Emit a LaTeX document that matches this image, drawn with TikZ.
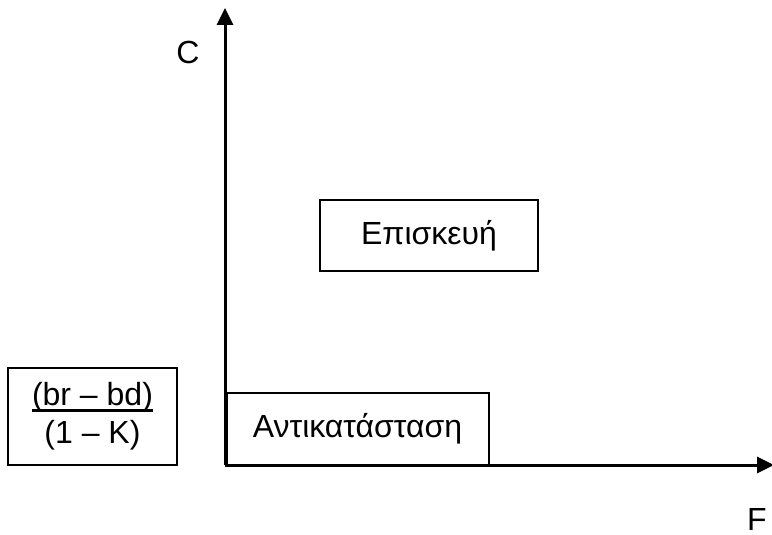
\documentclass[tikz,border=0pt]{standalone}
\usepackage{fontspec}
\usepackage{calc}
\setmainfont{Liberation Sans}
\usetikzlibrary{arrows.meta}

\tikzset{
  axis/.style={line width=1.5pt,-{Triangle[length=8.5pt,width=8pt]}},
  region/.style={draw,line width=1pt,inner sep=0pt,font=\fontsize{16}{19}\selectfont}
}
\newcommand{\thickul}[1]{\makebox[0pt][l]{\rule[-3pt]{\widthof{#1}}{1.4pt}}#1}

\begin{document}
\begin{tikzpicture}[x=0.5pt,y=-0.5pt]
      \useasboundingbox (0,0) rectangle (772,535);

      % axes
      \coordinate (O)    at (225,465);
      \coordinate (ytop) at (225,8);
      \coordinate (xend) at (774,465);
      \draw[axis] (O) -- (ytop);
      \draw[axis] (O) -- (xend);

      \begin{scope}[every node/.style={inner sep=0pt,font=\fontsize{16}{19}\selectfont}]
        \node (C) at (188,52)  {C};
        \node (F) at (757,519) {F};
      \end{scope}

      % regions
      \node[region,minimum width=109pt,minimum height=35.5pt] (repair)  at (429,235.5) {Επισκευή};
      \node[region,minimum width=131pt,minimum height=36pt]   (replace) at (357.5,429) {Αντικατάσταση};
      \node[region,minimum width=84.5pt,minimum height=48.5pt,align=center] (ratio) at (92.5,416.5)
        {\thickul{(br – bd)}\\(1 – K)};

    \end{tikzpicture}
\end{document}
